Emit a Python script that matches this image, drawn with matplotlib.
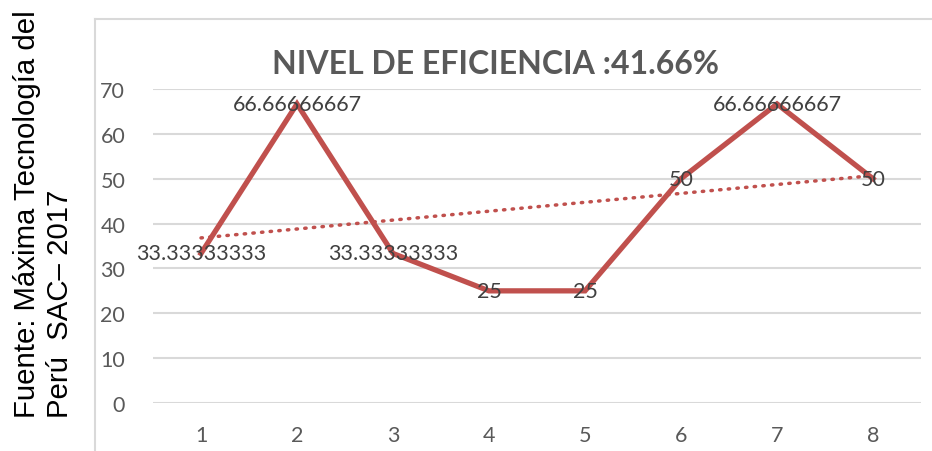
import numpy as np
import matplotlib
matplotlib.use('Agg')
import matplotlib.pyplot as plt
from matplotlib.lines import Line2D

# data
periodos = [1, 2, 3, 4, 5, 6, 7, 8]
eficiencia = [33.33333333, 66.66666667, 33.33333333, 25, 25, 50, 66.66666667, 50]
etiquetas = ['33.33333333', '66.66666667', '33.33333333', '25', '25', '50', '66.66666667', '50']
titulo = 'NIVEL DE EFICIENCIA :41.66%'
fuente_1 = 'Fuente: Máxima Tecnología del'
fuente_2 = 'Perú  SAC– 2017'

ROJO = '#C0504D'
GRIS = '#595959'
GRID = '#D9D9D9'

plt.rcParams['font.family'] = ['Lato', 'DejaVu Sans']

W, H = 932, 452
fig = plt.figure(figsize=(W/100, H/100), dpi=100)

# chart frame (only top and left edges visible)
fig.add_artist(Line2D([95/W, 95/W], [0, 1-20/H], color=GRID, lw=1.5, transform=fig.transFigure))
fig.add_artist(Line2D([95/W, 1], [1-20/H, 1-20/H], color=GRID, lw=1.5, transform=fig.transFigure))

ax = fig.add_axes([153/W, 1-404/H, (921-153)/W, (404-90)/H])
ax.set_xlim(0.5, 8.5)
ax.set_ylim(0, 70)
ax.set_yticks(range(0, 71, 10))
ax.set_xticks(periodos)
for s in ax.spines.values():
    s.set_visible(False)
ax.yaxis.grid(True, color=GRID, lw=1.5)
ax.set_axisbelow(True)
ax.tick_params(length=0, labelsize=15.5, labelcolor=GRIS)
ax.tick_params(axis='x', pad=16)
ax.tick_params(axis='y', pad=20)

ax.plot(periodos, eficiencia, color=ROJO, lw=3.8, solid_joinstyle='miter', zorder=3)

# linear trendline
m, b = np.polyfit(periodos, eficiencia, 1)
xt = np.array([periodos[0], periodos[-1]])
ax.plot(xt, m*xt + b, color=ROJO, lw=2.5, ls=(0, (0.4, 2.1)), dash_capstyle='round', zorder=2)

for x, y, t in zip(periodos, eficiencia, etiquetas):
    ax.text(x, y, t, ha='center', va='center', fontsize=15.5, color='#404040', zorder=4)

fig.text(496/W, 1-65/H, titulo, ha='center', va='center', fontsize=23,
         fontweight='bold', color=GRIS)

fig.text(27/W, 34/H, fuente_1, rotation=90, ha='center', va='bottom',
         fontsize=21.2, family='Liberation Sans', color='black')
fig.text(60/W, 34/H, fuente_2, rotation=90, ha='center', va='bottom',
         fontsize=21.2, family='Liberation Sans', color='black')

fig.savefig('out.png', dpi=100)
